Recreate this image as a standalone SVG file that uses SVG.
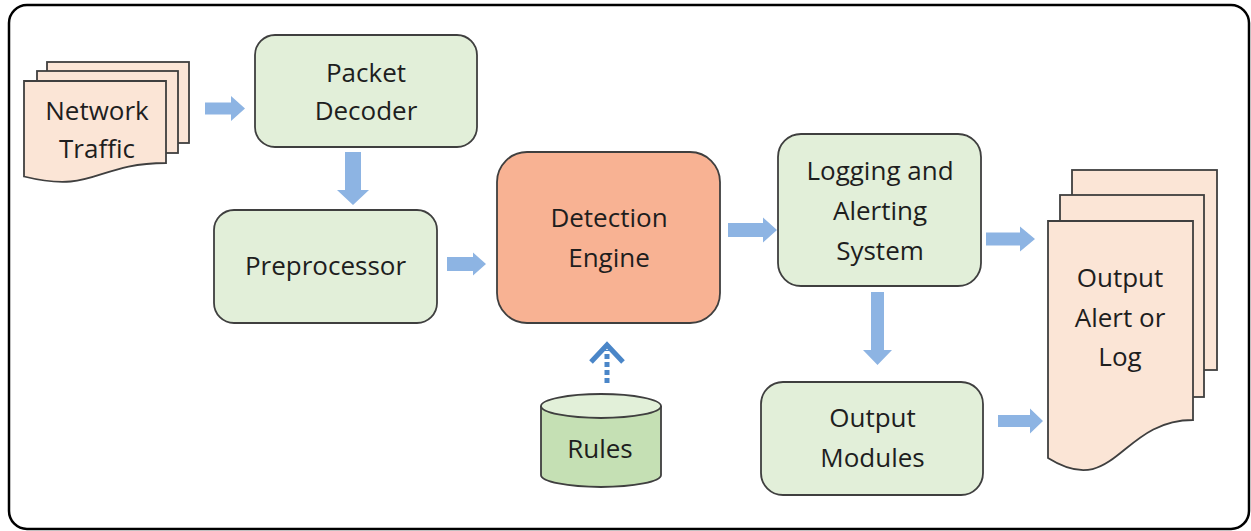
<svg xmlns="http://www.w3.org/2000/svg" width="1251" height="531" viewBox="0 0 1251 531">
  <style>
    .frame { fill: #ffffff; stroke: #000000; stroke-width: 2.5; }
    .proc { fill: #e2efd9; stroke: #3f3f3f; stroke-width: 1.8; }
    .core { fill: #f8b293; stroke: #3f3f3f; stroke-width: 1.8; }
    .doc { fill: #fbe5d6; stroke: #3f3f3f; stroke-width: 1.8; }
    .db-body { fill: #c5e0b4; stroke: #3f3f3f; stroke-width: 1.8; }
    .db-top { fill: #e2f0d9; stroke: #3f3f3f; stroke-width: 1.8; }
    .flow { fill: #8db4e3; stroke: none; }
    .feed { fill: none; stroke: #4a86c8; stroke-width: 5; }
    .lbl { font-family: "Open Sans", "Liberation Sans", sans-serif; font-size: 26px; fill: #1e1e1e; text-anchor: middle; }
  </style>

  <!-- outer frame -->
  <rect class="frame" x="9" y="5" width="1240" height="524" rx="18" ry="18"/>

  <!-- connectors -->
  <g id="connectors">
    <!-- Network Traffic -> Packet Decoder -->
    <polygon class="flow" points="205,102.5 231,102.5 231,96 245,108.5 231,121 231,114.5 205,114.5"/>
    <!-- Packet Decoder -> Preprocessor -->
    <polygon class="flow" points="345,152 361,152 361,190 369,190 353,205 337,190 345,190"/>
    <!-- Preprocessor -> Detection Engine -->
    <polygon class="flow" points="447,257 473,257 473,252.5 486,264 473,275.5 473,271 447,271"/>
    <!-- Detection Engine -> Logging and Alerting System -->
    <polygon class="flow" points="728,223 763,223 763,217.5 777,230 763,242.5 763,237 728,237"/>
    <!-- Logging and Alerting System -> Output Alert or Log -->
    <polygon class="flow" points="986,232.5 1020,232.5 1020,226.5 1035,239 1020,251.5 1020,245.5 986,245.5"/>
    <!-- Logging and Alerting System -> Output Modules -->
    <polygon class="flow" points="871,292 884,292 884,350 892,350 877.5,365 863,350 871,350"/>
    <!-- Output Modules -> Output Alert or Log -->
    <polygon class="flow" points="998,415 1030,415 1030,408.5 1043,421 1030,433.5 1030,427 998,427"/>
    <!-- Rules -> Detection Engine (dotted feed) -->
    <line class="feed" x1="607" y1="383" x2="607" y2="350" stroke-dasharray="5 3"/>
    <polyline class="feed" points="591,362 607,345 623,362"/>
  </g>

  <!-- Network Traffic (multi-document) -->
  <g id="network-traffic">
    <rect class="doc" x="47" y="62" width="142" height="81"/>
    <rect class="doc" x="37" y="71" width="141" height="82"/>
    <path class="doc" d="M24,81 H166 V163 C95,163 95,194 24,176.5 Z"/>
    <text class="lbl" x="97" y="120">Network</text>
    <text class="lbl" x="97" y="158">Traffic</text>
  </g>

  <!-- Packet Decoder -->
  <g id="packet-decoder">
    <rect class="proc" x="255" y="35" width="222" height="112" rx="20" ry="20"/>
    <text class="lbl" x="366" y="82">Packet</text>
    <text class="lbl" x="366" y="120">Decoder</text>
  </g>

  <!-- Preprocessor -->
  <g id="preprocessor">
    <rect class="proc" x="214" y="210" width="223" height="113" rx="20" ry="20"/>
    <text class="lbl" x="325.5" y="275">Preprocessor</text>
  </g>

  <!-- Detection Engine -->
  <g id="detection-engine">
    <rect class="core" x="497" y="152" width="223" height="171" rx="30" ry="30"/>
    <text class="lbl" x="609" y="227">Detection</text>
    <text class="lbl" x="609" y="267">Engine</text>
  </g>

  <!-- Rules (database) -->
  <g id="rules">
    <path class="db-body" d="M541,406 V475 A60,12 0 0 0 661,475 V406"/>
    <ellipse class="db-top" cx="601" cy="406" rx="60" ry="12"/>
    <text class="lbl" x="600" y="458">Rules</text>
  </g>

  <!-- Logging and Alerting System -->
  <g id="logging-alerting">
    <rect class="proc" x="778" y="134" width="203" height="152" rx="23" ry="23"/>
    <text class="lbl" x="880" y="180">Logging and</text>
    <text class="lbl" x="880" y="220">Alerting</text>
    <text class="lbl" x="880" y="260">System</text>
  </g>

  <!-- Output Modules -->
  <g id="output-modules">
    <rect class="proc" x="761" y="382" width="222" height="113" rx="22" ry="22"/>
    <text class="lbl" x="872.5" y="427">Output</text>
    <text class="lbl" x="872.5" y="467">Modules</text>
  </g>

  <!-- Output Alert or Log (multi-document) -->
  <g id="output-alert-log">
    <rect class="doc" x="1072" y="170" width="145" height="200"/>
    <rect class="doc" x="1060" y="195" width="144" height="202"/>
    <path class="doc" d="M1048,221 H1193 V420 C1120,420 1115,500 1048,458 Z"/>
    <text class="lbl" x="1120" y="287">Output</text>
    <text class="lbl" x="1120" y="327">Alert or</text>
    <text class="lbl" x="1120" y="366">Log</text>
  </g>
</svg>
